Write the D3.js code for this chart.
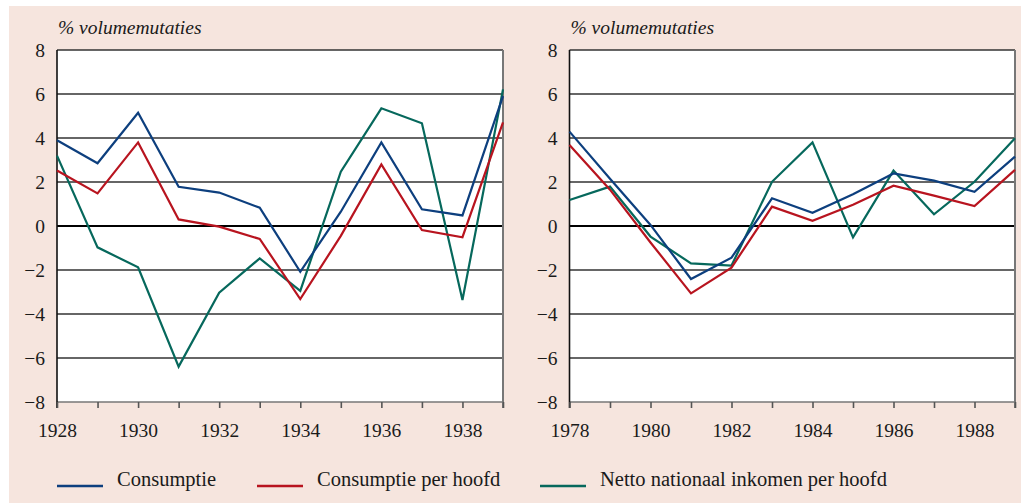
<!DOCTYPE html>
<html>
<head>
<meta charset="utf-8">
<script src="https://cdn.jsdelivr.net/npm/d3@7"></script>
<style>
  body { margin: 0; background: #ffffff; }
  svg text { font-family: "Liberation Serif", "DejaVu Serif", serif; fill: #1a1a1a; }
</style>
</head>
<body>
<script>
// data
var yearsA = [1928, 1929, 1930, 1931, 1932, 1933, 1934, 1935, 1936, 1937, 1938, 1939];
var consA = [3.9, 2.85, 5.15, 1.78, 1.52, 0.83, -2.08, 0.65, 3.8, 0.76, 0.48, 5.9];
var consHoofdA = [2.52, 1.48, 3.8, 0.3, -0.03, -0.59, -3.32, -0.45, 2.8, -0.18, -0.51, 4.71];
var nniA = [3.2, -0.97, -1.88, -6.39, -3.03, -1.47, -2.95, 2.47, 5.35, 4.67, -3.36, 6.21];

var yearsB = [1978, 1979, 1980, 1981, 1982, 1983, 1984, 1985, 1986, 1987, 1988, 1989];
var consB = [4.29, 2.15, 0.05, -2.41, -1.44, 1.26, 0.6, 1.44, 2.39, 2.06, 1.55, 3.15];
var consHoofdB = [3.68, 1.65, -0.75, -3.06, -1.89, 0.88, 0.24, 0.97, 1.83, 1.38, 0.91, 2.55];
var nniB = [1.18, 1.79, -0.48, -1.7, -1.8, 2.01, 3.8, -0.52, 2.52, 0.53, 2.01, 3.99];

var yTicks = [8, 6, 4, 2, 0, -2, -4, -6, -8];
var seriesNames = ["Consumptie", "Consumptie per hoofd", "Netto nationaal inkomen per hoofd"];
var colors = ["#0d3f7e", "#b8141f", "#06685c"];
var yLabel = "% volumemutaties";

var svg = d3.select("body").append("svg")
    .attr("width", 1021)
    .attr("height", 503);

// pink page
svg.append("rect")
    .attr("x", 9).attr("y", 6)
    .attr("width", 1012).attr("height", 497)
    .attr("fill", "#f6e5de");

function drawPanel(x0, x1, years, data) {
    var x = d3.scaleLinear().domain([years[0], years[years.length - 1]]).range([x0, x1]);
    var y = d3.scaleLinear().domain([-8, 8]).range([402, 50]);

    var g = svg.append("g");

    g.append("rect")
        .attr("x", x0).attr("y", y(8))
        .attr("width", x1 - x0).attr("height", y(-8) - y(8))
        .attr("fill", "#ffffff");

    // horizontal grid
    g.selectAll("line.grid")
        .data(yTicks)
        .enter().append("line")
        .attr("x1", x0).attr("x2", x1)
        .attr("y1", function(d) { return y(d); })
        .attr("y2", function(d) { return y(d); })
        .attr("stroke", function(d) { return d == 0 ? "#000" : (d == -8 ? "#777" : "#333"); })
        .attr("stroke-width", function(d) { return d == 0 ? 1.8 : 1.4; });

    // right frame
    g.append("line")
        .attr("x1", x1).attr("x2", x1)
        .attr("y1", y(8)).attr("y2", y(-8) + 6)
        .attr("stroke", "#777").attr("stroke-width", 2);

    // left axis
    var yAxis = d3.axisLeft(y).tickValues(yTicks).tickSize(0).tickPadding(12)
        .tickFormat(function(d) { return d < 0 ? "\u2212" + Math.abs(d) : d; });
    var ya = g.append("g").attr("transform", "translate(" + x0 + ",0)").call(yAxis);
    ya.select(".domain").remove();
    ya.selectAll("text").style("font-size", "19.5px").attr("fill", "#1a1a1a")
        .style("font-family", "'Liberation Serif', serif");
    g.append("line")
        .attr("x1", x0).attr("x2", x0)
        .attr("y1", y(8)).attr("y2", y(-8) + 6)
        .attr("stroke", "#111").attr("stroke-width", 1.6);

    // bottom ticks
    var xAxis = d3.axisBottom(x).tickValues(years).tickSize(6).tickPadding(15)
        .tickFormat(function(d) { return (d % 2 == 0) ? d : ""; });
    var xa = g.append("g").attr("transform", "translate(0," + y(-8) + ")").call(xAxis);
    xa.select(".domain").remove();
    xa.selectAll("line").attr("stroke", "#555").attr("stroke-width", 1.6);
    xa.selectAll("text").style("font-size", "19.5px").attr("fill", "#1a1a1a")
        .style("font-family", "'Liberation Serif', serif");

    g.append("text")
        .attr("x", x0 + 1).attr("y", 34)
        .style("font-size", "19.5px").style("font-style", "italic")
        .text(yLabel);

    var line = d3.line()
        .x(function(d, i) { return x(years[i]); })
        .y(function(d) { return y(d); });

    // green first so blue/red sit on top like the original
    [2, 1, 0].forEach(function(k) {
        g.append("path")
            .datum(data[k])
            .attr("d", line)
            .attr("fill", "none")
            .attr("stroke", colors[k])
            .attr("stroke-width", 2.2)
            .attr("stroke-linejoin", "miter");
    });
}

drawPanel(57, 503, yearsA, [consA, consHoofdA, nniA]);
drawPanel(569.5, 1015, yearsB, [consB, consHoofdB, nniB]);

// legend
var legendX = [57, 257, 540];
var leg = svg.append("g").selectAll("g")
    .data(seriesNames)
    .enter().append("g")
    .attr("transform", function(d, i) { return "translate(" + legendX[i] + ",486)"; });
leg.append("line")
    .attr("x1", 0).attr("x2", 46)
    .attr("y1", 0).attr("y2", 0)
    .attr("stroke", function(d, i) { return colors[i]; })
    .attr("stroke-width", 2.4);
leg.append("text")
    .attr("x", 60).attr("y", 0)
    .style("font-size", "20.5px")
    .text(function(d) { return d; });
</script>
</body>
</html>
